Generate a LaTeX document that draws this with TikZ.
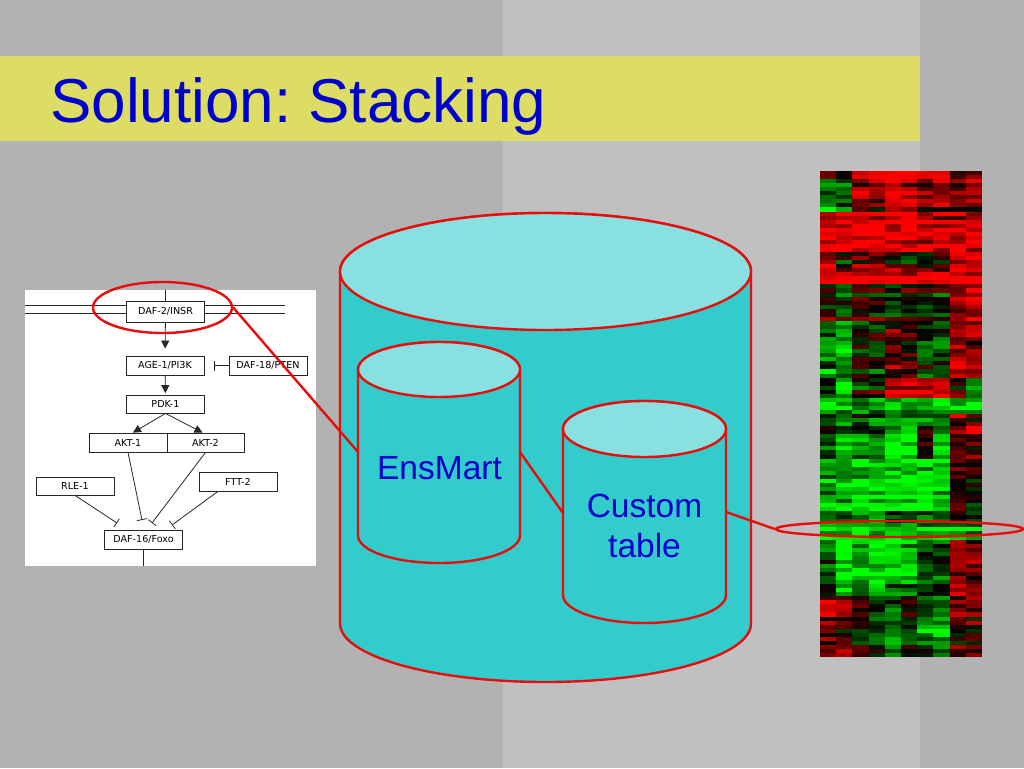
\documentclass[tikz,border=0pt]{standalone}
\usepackage{fontspec}
\setmainfont{Liberation Sans}
\newfontfamily\pwfont{DejaVu Sans}
\usetikzlibrary{shapes.geometric,arrows.meta}
\definecolor{bgdark}{RGB}{178,178,178}
\definecolor{bglight}{RGB}{192,192,192}
\definecolor{titlebar}{RGB}{221,221,102}
\definecolor{titleblue}{RGB}{0,0,204}
\definecolor{cylbody}{RGB}{51,204,204}
\definecolor{cyltop}{RGB}{136,224,224}
\definecolor{hlred}{RGB}{232,12,12}
\tikzset{
  cylbodystyle/.style={fill=cylbody, draw=hlred, line width=2.4pt, line join=round},
  cyltopstyle/.style={fill=cyltop, draw=hlred, line width=2.4pt},
  redline/.style={draw=hlred, line width=2.4pt},
  hlellipse/.style={ellipse, draw=hlred, line width=2.4pt, inner sep=0pt},
  bigtext/.style={text=titleblue, inner sep=0pt, font=\fontsize{33.5}{40}\selectfont},
  pwbox/.style={draw=black!85, line width=0.8pt, fill=white, minimum width=78pt,
    minimum height=19pt, inner sep=0pt, font=\pwfont\fontsize{9.6}{11}\selectfont},
  pwline/.style={draw=black!85, line width=0.8pt},
  pwarrow/.style={pwline, -{Triangle[length=8pt,width=8pt]}},
  pwinhib/.style={pwline, -{Bar[width=10pt,line width=0.8pt]}},
}
\newcommand\drawcyl[5]{%
  \filldraw[cylbodystyle] (#1-#4,#2) -- (#1-#4,#3)
    arc[start angle=180,end angle=360,x radius=#4pt,y radius=#5pt]
    -- (#1+#4,#2)
    arc[start angle=0,end angle=180,x radius=#4pt,y radius=#5pt] -- cycle;
  \filldraw[cyltopstyle] (#1,#2) ellipse[x radius=#4pt,y radius=#5pt];
}
\frenchspacing
\begin{document}
\begin{tikzpicture}[x=1pt,y=-1pt]
\useasboundingbox (0,0) rectangle (1024,768);
% background
\fill[bgdark] (0,0) rectangle (1024,768);
\fill[bglight] (503,0) rectangle (920,768);
\fill[titlebar] (0,56) rectangle (920,141);
\node[anchor=base west, inner sep=0pt, text=titleblue, font=\fontsize{62}{70}\selectfont] (title) at (50,122) {Solution: Stacking};

% pathway picture
\fill[white] (25,290) rectangle (316,566);
\draw[pwline] (25,305) -- (285,305);
\draw[pwline] (25,313) -- (285,313);
\coordinate (memtop) at (165.5,290);
\node[pwbox, minimum height=21pt] (daf2) at (165.5,311.5) {DAF-2/INSR};
\draw[pwline] (memtop) -- (daf2.north);
\node[pwbox] (age1) at (165,365.5) {AGE-1/PI3K};
\node[pwbox] (daf18) at (268,365.5) {DAF-18/PTEN};
\node[pwbox, minimum height=18pt] (pdk1) at (165.5,404) {PDK-1};
\node[pwbox] (akt1) at (128,442.5) {AKT-1};
\node[pwbox, minimum width=77pt] (akt2) at (205.5,442.5) {AKT-2};
\node[pwbox, minimum height=18pt] (rle1) at (75,486) {RLE-1};
\node[pwbox] (ftt2) at (238,481.5) {FTT-2};
\node[pwbox] (daf16) at (143.5,539.5) {DAF-16/Foxo};
\coordinate (ptenbar) at (214,365.5);
\coordinate (i1) at (117,523);
\coordinate (i2) at (142,520);
\coordinate (i3) at (152,523);
\coordinate (i4) at (172,525);
\coordinate (pwbottom) at (143.5,566);
\draw[pwarrow, shorten >=7pt] (daf2) -- (age1);
\draw[pwarrow, shorten >=1.5pt] (age1) -- (pdk1);
\draw[pwarrow] (pdk1.south) -- ([xshift=5pt]akt1.north);
\draw[pwarrow] (pdk1.south) -- ([xshift=-3pt]akt2.north);
\draw[pwinhib] (daf18.west) -- (ptenbar);
\draw[pwinhib] (rle1.south) -- (i1);
\draw[pwinhib] (akt1.south) -- (i2);
\draw[pwinhib] (akt2.south) -- (i3);
\draw[pwinhib] ([xshift=-20pt]ftt2.south) -- (i4);
\draw[pwline] (daf16.south) -- (pwbottom);

% cylinders
\drawcyl{545.5}{271.5}{623.5}{205.5}{58.5}
\drawcyl{439}{369.5}{535.5}{81}{27.5}
\drawcyl{644.5}{429}{595}{81.5}{28}
\node[bigtext, anchor=base] (ensmart) at (439.5,479) {EnsMart};
\node[bigtext, align=center, anchor=center] (custom) at (644.5,525.7) {Custom\\table};

% heatmap
\pgfmathsetseed{11}
\foreach \ra/\rb/\bl in {
  0/1/{0.2,-0.3,0.7,0.7,0.9,0.9,0.9,0.9,0.1,0.2},
  2/9/{-0.6,-0.6,0.5,0.3,0.7,0.6,0.5,0.5,0.3,0.4},
  10/19/{0.8,0.6,0.8,0.8,0.7,0.7,0.6,0.6,0.6,0.6},
  20/24/{0.7,0.0,0.5,0.4,0.3,0.1,0.1,0.2,0.8,0.8},
  25/27/{0.9,0.9,0.9,0.9,0.9,0.9,0.9,0.9,0.9,0.9},
  28/38/{0.1,-0.2,0.1,0.1,-0.1,0.2,0.1,0.0,0.5,0.8},
  39/50/{-0.5,-0.6,0.0,-0.1,0.3,0.2,-0.3,-0.3,0.6,0.6},
  51/55/{-0.2,-0.8,-0.1,0.1,0.8,0.8,0.8,0.8,0.1,-0.4},
  56/59/{-0.8,-0.7,-0.6,-0.6,-0.6,-0.6,-0.8,-0.8,-0.8,-0.8},
  60/62/{-0.2,-0.4,-0.2,-0.3,-0.4,-0.2,-0.3,-0.2,0.4,0.4},
  63/70/{-0.2,-0.5,-0.4,-0.3,-0.9,-0.8,0.2,-0.5,0.5,0.5},
  71/83/{-0.6,-0.7,-0.8,-0.8,-0.9,-0.9,-0.9,-0.8,0.3,0.1},
  84/86/{-0.4,-0.4,-0.5,-0.6,-0.3,-0.4,-0.4,-0.3,0.0,0.0},
  87/90/{-0.9,-0.95,-0.9,-0.9,-0.8,-0.8,-0.8,-0.8,-0.8,-0.8},
  91/104/{-0.2,-0.9,-0.7,-0.8,-0.7,-0.6,-0.2,-0.2,0.6,0.5},
  105/119/{0.5,0.4,0.1,-0.2,-0.4,-0.1,-0.4,-0.5,0.3,0.3}}{
  \foreach \rr in {\ra,...,\rb}{
    \pgfmathsetmacro\rn{0.3*rand}
    \foreach \bb [count=\cc from 0] in \bl {
      \pgfmathsetmacro\vv{max(-1,min(1,\bb+\rn+0.35*rand))}
      \pgfmathtruncatemacro\pp{abs(\vv)*100}
      \ifdim\vv pt>0pt \def\hc{red}\else\def\hc{green}\fi
      \fill[\hc!\pp!black] (820+16.2*\cc,171+4.05*\rr) rectangle ++(16.3,4.15);
    }
  }
}

% highlights and connectors
\node[hlellipse, minimum width=139pt, minimum height=51pt] (hl1) at (162.5,307.5) {};
\node[hlellipse, minimum width=247pt, minimum height=16pt] (hl2) at (899.5,529) {};
\coordinate (ensL) at (358,452);
\coordinate (ensR) at (520,452);
\coordinate (cusL) at (563,513);
\coordinate (cusR) at (726,512);
\draw[redline] (hl1.east) -- (ensL);
\draw[redline] (ensR) -- (cusL);
\draw[redline] (cusR) -- (hl2.west);
\end{tikzpicture}
\end{document}
